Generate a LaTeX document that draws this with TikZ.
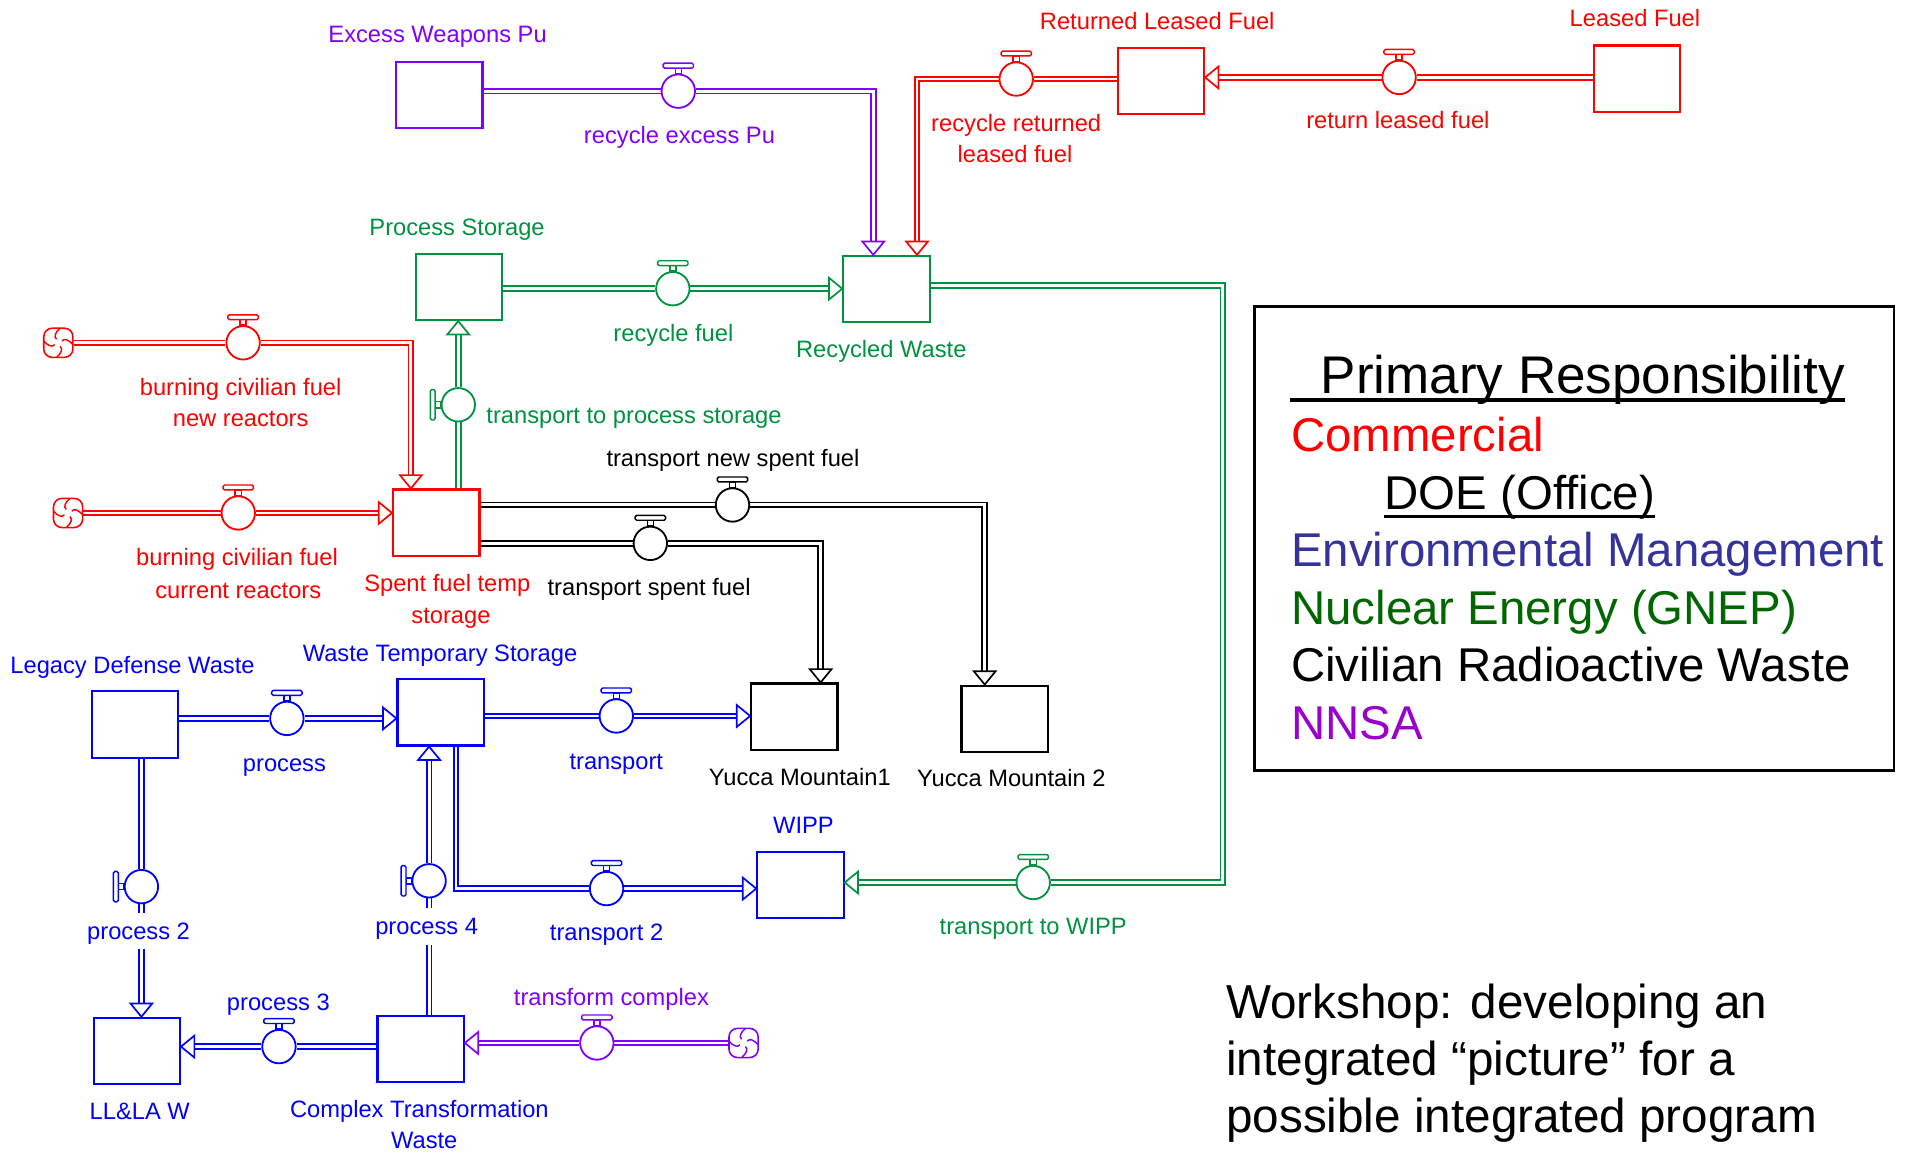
\documentclass[tikz,border=0pt]{standalone}
\usepackage{fontspec}
\setmainfont{Liberation Sans}
\usetikzlibrary{calc}
\definecolor{vred}{RGB}{255,0,0}
\definecolor{vgreen}{RGB}{0,146,63}
\definecolor{vblue}{RGB}{0,0,255}
\definecolor{vpurple}{RGB}{128,0,255}
\definecolor{lgreen}{RGB}{0,102,0}
\definecolor{lblue}{RGB}{51,51,153}
\definecolor{lpurple}{RGB}{153,0,204}
\pgfdeclarelayer{bg}
\pgfsetlayers{bg,main}
\newcommand\lblfont{\fontsize{19.5pt}{24pt}\selectfont}
\newcommand\legfont{\fontsize{39pt}{44pt}\selectfont}
\newcommand\titfont{\fontsize{43.6pt}{48pt}\selectfont}
\newcommand\wsfont{\fontsize{39.2pt}{44pt}\selectfont}
\tikzset{
  stock/.style={draw=#1, line width=1.8pt, fill=white, minimum width=71pt, minimum height=54.5pt, inner sep=0pt},
  valve/.style={draw=#1, line width=1.5pt, fill=white, circle, minimum size=27.5pt, inner sep=0pt},
  pipe/.style={draw=#1, line width=1.5pt, double=white, double distance=2.4pt},
  pipeA/.style={pipe=#1, shorten >=10pt},
  lbl/.style={text=#1, font=\lblfont, inner sep=0pt, text height=16pt, text depth=2pt},
  handle/.style={draw=#1, line width=1.2pt, fill=white},
  tipst/.style={draw=#1, line width=1.4pt, fill=white, line join=miter},
  cloudn/.style={draw=#1, line width=1.3pt, fill=white, rounded corners=7pt, minimum size=24pt, inner sep=0pt},
}
\newcommand\swirl[2]{%
  \foreach \q in {0,90,180,270}{\draw[#2, line width=1.2pt, shift={(#1.center)}, rotate=\q] (1.5,-12) .. controls (-2.5,-8.5) and (-4,-5) .. (-1.5,-3);}}
\newcommand\hup[2]{%
  \draw[handle=#2] ([xshift=-2.5pt]#1.north) rectangle ([xshift=2.5pt,yshift=4.5pt]#1.north);
  \draw[handle=#2, rounded corners=1.2pt] ([xshift=-12.5pt,yshift=4.5pt]#1.north) rectangle ([xshift=12.5pt,yshift=8.5pt]#1.north);}
\newcommand\hleft[2]{%
  \draw[handle=#2] ([yshift=-2.5pt]#1.west) rectangle ([xshift=-4.5pt,yshift=2.5pt]#1.west);
  \draw[handle=#2, rounded corners=1.2pt] ([xshift=-4.5pt,yshift=-12.5pt]#1.west) rectangle ([xshift=-8.5pt,yshift=12.5pt]#1.west);}
\newcommand\tipD[2]{\draw[tipst=#1] (#2) -- ++(-9,-11) -- ++(18,0) -- cycle;}
\newcommand\tipU[2]{\draw[tipst=#1] (#2) -- ++(-9,11) -- ++(18,0) -- cycle;}
\newcommand\tipR[2]{\draw[tipst=#1] (#2) -- ++(-11,-9) -- ++(0,18) -- cycle;}
\newcommand\tipL[2]{\draw[tipst=#1] (#2) -- ++(11,-9) -- ++(0,18) -- cycle;}
\begin{document}
\begin{tikzpicture}[x=1pt,y=-1pt]
\useasboundingbox (0,0) rectangle (1568,948);
% ---------- stocks
\node[stock=vpurple] (EWP) at (361.5,78) {};
\node[stock=vred] (RLF) at (955,66.5) {};
\node[stock=vred] (LF) at (1346.7,64.7) {};
\node[stock=vgreen] (PS) at (377.7,236) {};
\node[stock=vgreen] (RW) at (729.3,237.8) {};
\node[stock=vred] (SF) at (358.9,430) {};
\node[stock=vblue] (LDW) at (111,596) {};
\node[stock=vblue] (WTS) at (362.5,586) {};
\node[stock=black] (Y1) at (653.5,589.6) {};
\node[stock=black] (Y2) at (826.5,591.3) {};
\node[stock=vblue] (WIPP) at (658.5,728) {};
\node[stock=vblue] (LL) at (112.5,864.6) {};
\node[stock=vblue] (CTW) at (346,863) {};
% ---------- clouds
\node[cloudn=vred] (c1) at (48,282) {};
\node[cloudn=vred] (c2) at (56,422) {};
\node[cloudn=vpurple] (c3) at (611.7,858) {};
\swirl{c1}{vred}\swirl{c2}{vred}\swirl{c3}{vpurple}
% ---------- valves
\node[valve=vpurple] (va) at (558,75) {};
\node[valve=vred] (vb) at (836,65) {};
\node[valve=vred] (vc) at (1151,63.7) {};
\node[valve=vgreen] (vd) at (553.5,237.5) {};
\node[valve=vred] (ve) at (200,282) {};
\node[valve=vgreen] (vf) at (377,333) {};
\node[valve=vred] (vg) at (196,422) {};
\node[valve=black] (vh) at (602.6,415.4) {};
\node[valve=black] (vi) at (535,447) {};
\node[valve=vblue] (vj) at (236,591) {};
\node[valve=vblue] (vk) at (507,589) {};
\node[valve=vblue] (vl) at (116.3,729.4) {};
\node[valve=vblue] (vm) at (353,724.6) {};
\node[valve=vblue] (vn) at (499,731) {};
\node[valve=vgreen] (vo) at (850,726) {};
\node[valve=vblue] (vp) at (229.5,861) {};
\node[valve=vpurple] (vq) at (491,858) {};
\hup{va}{vpurple}\hup{vb}{vred}\hup{vc}{vred}\hup{vd}{vgreen}\hup{ve}{vred}
\hleft{vf}{vgreen}\hup{vg}{vred}\hup{vh}{black}\hup{vi}{black}\hup{vj}{vblue}
\hup{vk}{vblue}\hleft{vl}{vblue}\hleft{vm}{vblue}\hup{vn}{vblue}\hup{vo}{vgreen}
\hup{vp}{vblue}\hup{vq}{vpurple}
% ---------- inflow points
\coordinate (rw1) at ([xshift=25.5pt]RW.north west);
\coordinate (rw2) at ([xshift=61.5pt]RW.north west);
\coordinate (sf1) at ([xshift=15.5pt]SF.north west);
\coordinate (y1in) at ([xshift=58pt]Y1.north west);
\coordinate (y2in) at ([xshift=20pt]Y2.north west);
\coordinate (wts2) at ([xshift=49pt]WTS.south west);
\coordinate (gc) at (1006,480);
% ---------- pipes
\begin{pgfonlayer}{bg}
\draw[pipeA=vpurple] (EWP.east |- va) -- (va) -| (rw1);
\draw[pipeA=vred] (RLF.west |- vb) -- (vb) -| (rw2);
\draw[pipeA=vred] (LF.west |- vc) -- (vc) -- (RLF.east |- vc);
\draw[pipeA=vgreen] (PS.east |- vd) -- (vd) -- (RW.west |- vd);
\draw[pipeA=vred] (c1.east) -- (ve) -| (sf1);
\draw[pipeA=vgreen] (SF.north -| vf) -- (vf) -- (PS.south -| vf);
\draw[pipeA=vred] (c2.east) -- (vg) -- (SF.west |- vg);
\draw[pipeA=black] (SF.east |- vh) -- (vh) -| (y2in);
\draw[pipeA=black] (SF.east |- vi) -- (vi) -| (y1in);
\draw[pipeA=vblue] (LDW.east |- vj) -- (vj) -- (WTS.west |- vj);
\draw[pipeA=vblue] (WTS.east |- vk) -- (vk) -- (Y1.west |- vk);
\draw[pipeA=vblue] (LDW.south -| vl) -- (vl) -- (LL.north -| vl);
\draw[pipeA=vblue] (CTW.north -| vm) -- (vm) -- (WTS.south -| vm);
\draw[pipeA=vblue] (wts2) |- (vn) -- (WIPP.west |- vn);
\draw[pipeA=vgreen] ([yshift=3pt]RW.east) -| (gc |- vo) -- (vo) -- (WIPP.east |- vo);
\draw[pipeA=vblue] (CTW.west |- vp) -- (vp) -- (LL.east |- vp);
\draw[pipeA=vpurple] (c3.west) -- (vq) -- (CTW.east |- vq);
\end{pgfonlayer}
% ---------- arrowheads
\tipD{vpurple}{rw1}
\tipD{vred}{rw2}
\tipL{vred}{RLF.east |- vc}
\tipR{vgreen}{RW.west |- vd}
\tipD{vred}{sf1}
\tipU{vgreen}{PS.south -| vf}
\tipR{vred}{SF.west |- vg}
\tipD{black}{y2in}
\tipD{black}{y1in}
\tipR{vblue}{WTS.west |- vj}
\tipR{vblue}{Y1.west |- vk}
\tipD{vblue}{LL.north -| vl}
\tipU{vblue}{WTS.south -| vm}
\tipR{vblue}{WIPP.west |- vn}
\tipL{vgreen}{WIPP.east |- vo}
\tipL{vblue}{LL.east |- vp}
\tipL{vpurple}{CTW.east |- vq}
% ---------- labels
\node[lbl=vpurple] (tEWP) at (360,28) {Excess Weapons Pu};
\node[lbl=vpurple] (tva) at (559,111) {recycle excess Pu};
\node[lbl=vred] (tRLF) at (952,17) {Returned Leased Fuel};
\node[lbl=vred] (tLF) at (1345,15) {Leased Fuel};
\node[lbl=vred] (tvb1) at (836,101) {recycle returned};
\node[lbl=vred] (tvb2) at (835,127) {leased fuel};
\node[lbl=vred] (tvc) at (1150,99) {return leased fuel};
\node[lbl=vgreen] (tPS) at (376,187) {Process Storage};
\node[lbl=vgreen] (tvd) at (554,274) {recycle fuel};
\node[lbl=vgreen] (tRW) at (725,287) {Recycled Waste};
\node[lbl=vred] (tve1) at (198,318) {burning civilian fuel};
\node[lbl=vred] (tve2) at (198,344) {new reactors};
\node[lbl=vgreen, anchor=west] (tvf) at (400,341) {transport to process storage};
\node[lbl=black] (tvh) at (603,377) {transport new spent fuel};
\node[lbl=vred] (tvg1) at (195,458) {burning civilian fuel};
\node[lbl=vred] (tvg2) at (196,485) {current reactors};
\node[lbl=vred] (tSF1) at (368,480) {Spent fuel temp};
\node[lbl=vred] (tSF2) at (371,506) {storage};
\node[lbl=black] (tvi) at (534,483) {transport spent fuel};
\node[lbl=vblue] (tLDW) at (109,547) {Legacy Defense Waste};
\node[lbl=vblue] (tWTS) at (362,537) {Waste Temporary Storage};
\node[lbl=vblue] (tvj) at (234,628) {process};
\node[lbl=vblue] (tvk) at (507,626) {transport};
\node[lbl=black] (tY1) at (658,639) {Yucca Mountain1};
\node[lbl=black] (tY2) at (832,640) {Yucca Mountain 2};
\node[lbl=vblue] (tWIPP) at (661,679) {WIPP};
\node[lbl=vblue, fill=white, inner ysep=6pt, inner xsep=2pt] (tvl) at (114,766) {process 2};
\node[lbl=vblue, fill=white, inner ysep=6pt, inner xsep=2pt] (tvm) at (351,762) {process 4};
\node[lbl=vblue] (tvn) at (499,767) {transport 2};
\node[lbl=vgreen] (tvo) at (850,762) {transport to WIPP};
\node[lbl=vblue] (tvp) at (229,824) {process 3};
\node[lbl=vpurple] (tvq) at (503,820) {transform complex};
\node[lbl=vblue] (tLL) at (115,914) {LL\&LA W};
\node[lbl=vblue] (tCTW1) at (345,912) {Complex Transformation};
\node[lbl=vblue] (tCTW2) at (349,938) {Waste};
% ---------- legend
\node[draw=black, line width=2.2pt, minimum width=526pt, minimum height=381.5pt, inner sep=0pt, anchor=north west] (leg) at (1031,251) {};
\node[anchor=base west, inner sep=0pt, font=\titfont] (lt) at (1086.4,323.5) {Primary Responsibility};
\draw[line width=2.6pt] (lt.base west -| leg.west) ++(30,5.5) coordinate (u1) -- (u1 -| lt.base east);
\node[anchor=base west, inner sep=0pt, font=\legfont, text=vred] (l1) at (1062,371.5) {Commercial};
\node[anchor=base west, inner sep=0pt, font=\legfont] (l2) at (1138.8,419.5) {DOE (Office)};
\draw[line width=2.6pt] ([yshift=-5.5pt]l2.base west) -- ([yshift=-5.5pt]l2.base east);
\node[anchor=base west, inner sep=0pt, font=\legfont, text=lblue] (l3) at (1062,466) {Environmental Management};
\node[anchor=base west, inner sep=0pt, font=\legfont, text=lgreen] (l4) at (1062,513.6) {Nuclear Energy (GNEP)};
\node[anchor=base west, inner sep=0pt, font=\legfont] (l5) at (1062,560.7) {Civilian Radioactive Waste};
\node[anchor=base west, inner sep=0pt, font=\legfont, text=lpurple] (l6) at (1062,608) {NNSA};
% ---------- workshop text
\node[anchor=base west, inner sep=0pt, font=\wsfont] (w1) at (1008.6,838) {Workshop: developing an};
\node[anchor=base west, inner sep=0pt, font=\wsfont] (w2) at (1008.6,885) {integrated “picture” for a};
\node[anchor=base west, inner sep=0pt, font=\wsfont] (w3) at (1008.6,932) {possible integrated program};
\end{tikzpicture}
\end{document}
